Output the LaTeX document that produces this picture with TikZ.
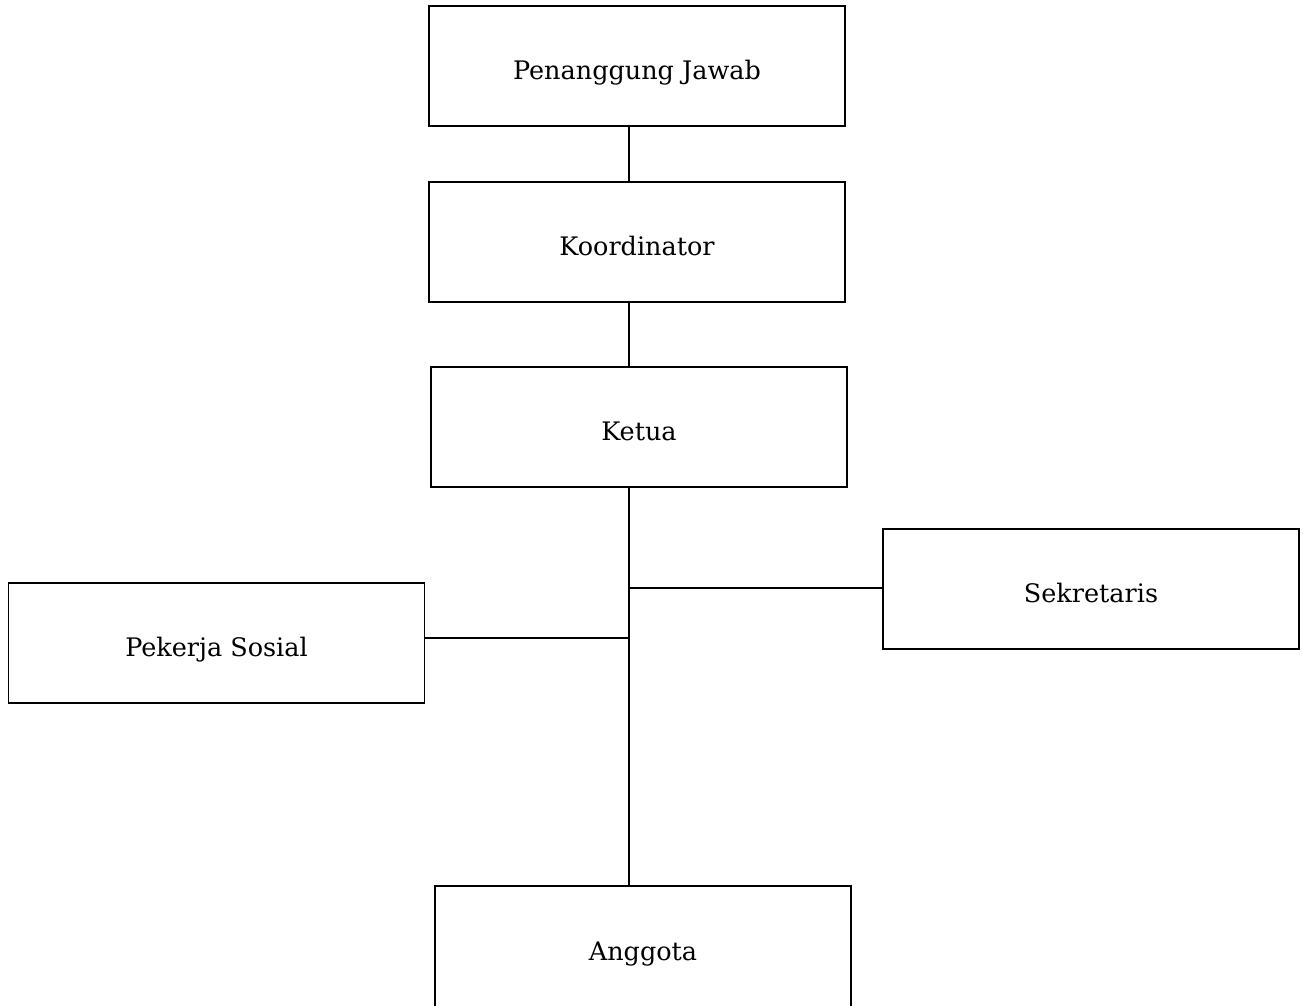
\documentclass[tikz,border=0pt]{standalone}
\usepackage{fontspec}
\setmainfont{DejaVu Serif}
\begin{document}
\begin{tikzpicture}[x=1pt,y=-1pt,
  box/.style={draw=black,line width=1.6pt,rectangle,minimum width=416pt,minimum height=120pt,inner sep=0pt,
    text height=27pt,text depth=0pt,font=\fontsize{25.5}{30}\selectfont},
  conn/.style={draw=black,line width=1.6pt}]
\useasboundingbox (0,0) rectangle (1303,1005);
\fill[white] (0,0) rectangle (1303,1005);
\node[box] (pj) at (637,66) {Penanggung Jawab};
\node[box] (ko) at (637,242) {Koordinator};
\node[box] (ke) at (639,427) {Ketua};
\node[box] (se) at (1091,589) {Sekretaris};
\node[box] (ps) at (216.5,643) {Pekerja Sosial};
\node[box,minimum height=122pt] (an) at (643,947) {Anggota};
\coordinate (jS) at (629,588);
\coordinate (jP) at (629,638);
\draw[conn] (pj.south -| 629,0) -- (ko.north -| 629,0);
\draw[conn] (ko.south -| 629,0) -- (ke.north -| 629,0);
\draw[conn] (ke.south -| 629,0) -- (an.north -| 629,0);
\draw[conn] (jS) -- (jS -| se.west);
\draw[conn] (jP) -- (jP -| ps.east);
\end{tikzpicture}
\end{document}
